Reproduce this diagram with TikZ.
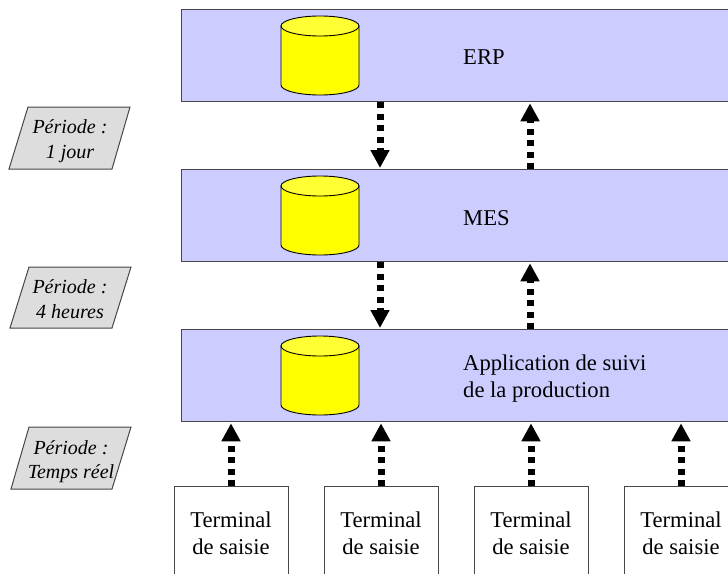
\documentclass[tikz,border=0pt]{standalone}
\usepackage{fontspec}
\setmainfont{Liberation Serif}
\usetikzlibrary{arrows.meta}
\definecolor{layerfill}{RGB}{204,204,255}
\definecolor{edgegray}{RGB}{70,70,70}
\definecolor{periodfill}{RGB}{221,221,221}
\definecolor{drumyellow}{RGB}{255,255,0}
\definecolor{drumtop}{RGB}{255,255,51}
\tikzset{
  layer/.style={draw=edgegray,line width=1.3pt,fill=layerfill,inner sep=0pt,anchor=north west,minimum width=580pt,minimum height=92pt},
  terminal/.style={draw=edgegray,line width=1pt,fill=white,inner sep=0pt,anchor=north west,minimum width=114pt,minimum height=120pt},
  flow/.style={line width=7pt,dash pattern=on 6pt off 5.5pt,-{Triangle[length=18pt,width=18pt,fill=black]},black,shorten >=1pt},
  label/.style={font=\fontsize{22.6}{26}\selectfont,anchor=base,inner sep=0pt,text=black},
  period/.style={font=\fontsize{20}{24}\selectfont\itshape,anchor=base,inner sep=0pt,text=black},
  periodbox/.style={draw=edgegray,line width=1pt,fill=periodfill},
  drum/.style={draw=black,line width=0.9pt,fill=drumyellow},
}
\newcommand{\drumshape}[1]{%
  \path[drum] (281,#1+10) -- (281,#1+69) arc[x radius=39,y radius=10,start angle=180,end angle=0] -- (359,#1+10) -- cycle;
  \path[drum,fill=drumtop] (320,#1+10) ellipse[x radius=39,y radius=10];
}
\begin{document}
\begin{tikzpicture}[x=1pt,y=-1pt]
\useasboundingbox (0,0) rectangle (728,573);
\clip (0,0) rectangle (728,573);
\fill[white] (0,0) rectangle (728,573);
% terminals and layers
\node[layer] (erp) at (181,9) {};
\node[layer] (mes) at (181,169) {};
\node[layer] (app) at (181,329) {};
\node[terminal] (t1) at (174,486) {};
\node[terminal] (t2) at (324,486) {};
\node[terminal] (t3) at (474,486) {};
\node[terminal] (t4) at (624,486) {};
% databases
\drumshape{16}
\drumshape{176}
\drumshape{336}
% layer labels
\node[label,anchor=base west] (lerp) at (463,64) {ERP};
\node[label,anchor=base west] (lmes) at (463,225) {MES};
\node[label,anchor=base west] (lapp1) at (463,370) {Application de suivi};
\node[label,anchor=base west] (lapp2) at (463,397) {de la production};
% terminal labels
\foreach \n/\x in {1/231,2/381,3/531,4/681}{
  \node[label] (ta\n) at (\x,527) {Terminal};
  \node[label] (tb\n) at (\x,554) {de saisie};
}
% connectors
\coordinate (d1) at (380,0); \coordinate (u1) at (530,0);
\draw[flow] (erp.south -| d1) -- (mes.north -| d1);
\draw[flow] (mes.north -| u1) -- (erp.south -| u1);
\draw[flow] (mes.south -| d1) -- (app.north -| d1);
\draw[flow] (app.north -| u1) -- (mes.south -| u1);
\foreach \n/\x in {1/231,2/381,3/531,4/681}{
  \coordinate (c\n) at (\x,0);
  \draw[flow] (t\n.north -| c\n) -- (app.south -| c\n);
}
% periods
\path[periodbox] (28,107) -- (130,107) -- (112,169) -- (9,169) -- cycle;
\path[periodbox] (29,267) -- (131,267) -- (112,328) -- (10,328) -- cycle;
\path[periodbox] (29,427) -- (131,427) -- (112,489) -- (11,489) -- cycle;
\node[period] (p1a) at (70,133) {Période :};
\node[period] (p1b) at (70,158) {1 jour};
\node[period] (p2a) at (70,293) {Période :};
\node[period] (p2b) at (70,318) {4 heures};
\node[period] (p3a) at (71,454) {Période :};
\node[period] (p3b) at (71,478) {Temps réel};
\end{tikzpicture}
\end{document}
